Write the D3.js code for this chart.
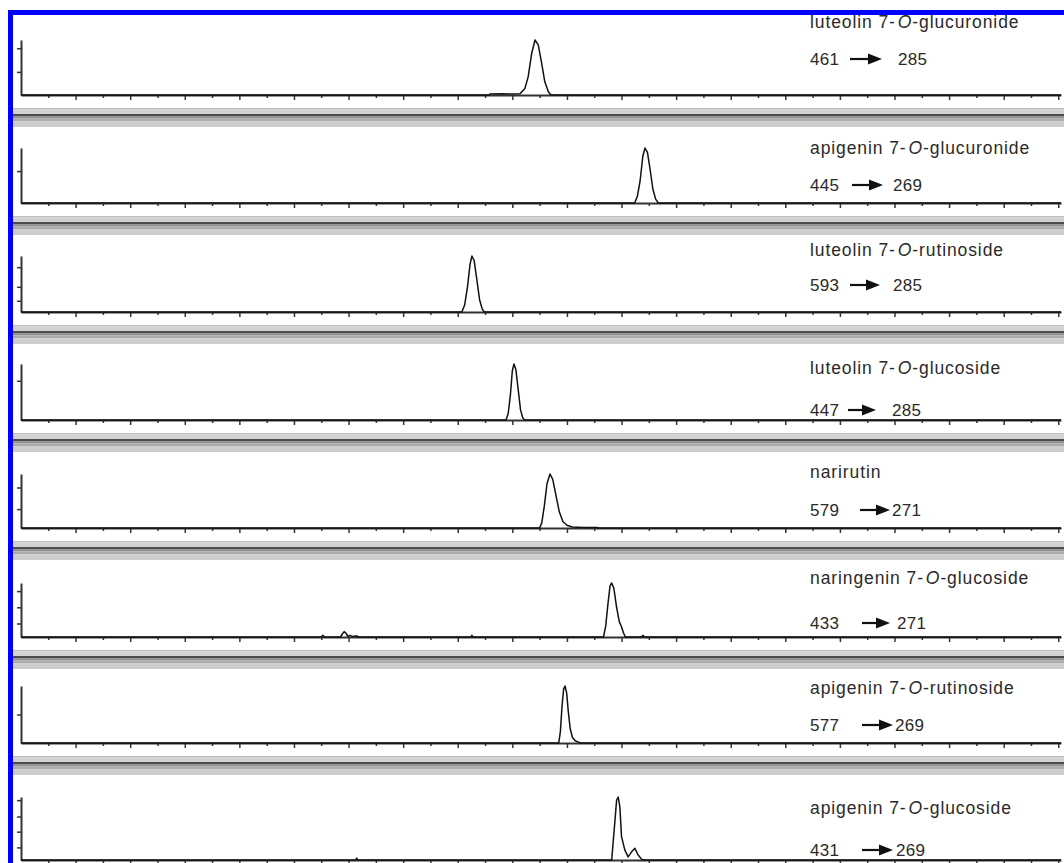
<!DOCTYPE html>
<html>
<head>
<meta charset="utf-8">
<script src="https://cdn.jsdelivr.net/npm/d3@7"></script>
<style>
  body { margin: 0; background: #fff; }
  svg { display: block; }
  .axis path, .axis line { stroke: #333; }
  text { font-family: "Liberation Sans", Arial, sans-serif; fill: #2a2a2a; }
</style>
</head>
<body>
<div id="chart"></div>
<script>
// compound names: [before italic O, italic O, after]
const compounds = [
    ["luteolin 7-", "O", "-glucuronide"],
    ["apigenin 7-", "O", "-glucuronide"],
    ["luteolin 7-", "O", "-rutinoside"],
    ["luteolin 7-", "O", "-glucoside"],
    ["narirutin", "", ""],
    ["naringenin 7-", "O", "-glucoside"],
    ["apigenin 7-", "O", "-rutinoside"],
    ["apigenin 7-", "O", "-glucoside"]
];
const precursorIons = ["461", "445", "593", "447", "579", "433", "577", "431"];
const productIons = ["285", "269", "285", "285", "271", "271", "269", "269"];

// traces: [retention time, relative intensity %]
const trace1 = [[0,0],[17.15,0],[17.18,2],[17.6,2.2],[18.0,1.8],[18.28,2.2],
    [18.46,12],[18.58,33],[18.71,76],[18.83,100],[18.95,91],[19.07,59],[19.19,24],[19.32,6],[19.4,1],[19.5,0],[38.1,0]];
const trace2 = [[0,0],[22.48,0],[22.58,12],[22.68,40],[22.78,85],[22.86,100],[22.95,92],[23.05,60],[23.15,25],[23.25,7],[23.35,0],[38.1,0]];
const trace3 = [[0,0],[16.15,0],[16.25,12],[16.35,42],[16.45,85],[16.52,100],[16.6,92],[16.7,58],[16.8,22],[16.9,5],[16.97,0],[38.1,0]];
const trace4 = [[0,0],[17.77,0],[17.85,12],[17.93,45],[18.0,88],[18.06,100],[18.13,90],[18.22,52],[18.3,18],[18.38,4],[18.45,0],[38.1,0]];
const trace5 = [[0,0],[19.0,0],[19.08,10],[19.17,40],[19.27,82],[19.38,100],[19.48,90],[19.6,60],[19.72,30],[19.85,12],[20.0,5],
    [20.2,2],[20.6,1],[21.1,1],[21.15,0],[38.1,0]];
const trace6 = [[0,0],[11.0,0],[11.06,3],[11.12,0],[11.7,0],[11.78,6],[11.84,10],[11.92,6],[11.98,1],[12.05,3],[12.12,1],[12.3,2],[12.36,0],
    [16.48,0],[16.52,3],[16.56,0],[21.34,0],[21.42,20],[21.5,60],[21.58,95],[21.64,100],[21.72,90],[21.82,55],[21.92,28],[22.0,19],
    [22.07,8],[22.14,0],[22.74,0],[22.78,3],[22.84,0],[38.1,0]];
const trace7 = [[0,0],[19.7,0],[19.76,20],[19.82,65],[19.88,95],[19.93,100],[19.99,88],[20.05,55],[20.12,25],[20.2,10],[20.3,4],
    [20.45,1],[20.55,0],[38.1,0]];
const trace8 = [[0,0],[12.26,0],[12.3,3],[12.34,0],[21.64,0],[21.76,63],[21.82,95],[21.88,100],[21.94,84],[22.0,37],[22.12,16],
    [22.24,5],[22.37,13],[22.49,18.5],[22.61,8],[22.74,1],[22.86,0],[38.1,0]];
const traces = [trace1, trace2, trace3, trace4, trace5, trace6, trace7, trace8];

// y-axis tick marks (relative intensity)
const yTicks = [[42, 85], [58], [20, 45, 80], [70], [35, 75], [25, 55, 85], [50], [20, 45, 69, 95]];

// layout
const W = 1064, H = 863;
const axisLeftX = 21, axisRightX = 1061;
const baselines = [95, 203, 312, 420, 528, 637, 743, 860];
const heights = [55, 55, 56, 56, 54, 54, 57, 63];
const nameY = [28, 154, 256, 374, 478, 584, 694, 814];
const ionY = [65, 191, 291, 416, 516, 629, 731, 856];
const arrowX = [[850, 882, 898], [852, 883, 893], [850, 880, 893], [848, 876, 892],
                [860, 890, 892], [862, 890, 897], [862, 893, 895], [862, 893, 896]];
const textX = 810;

const svg = d3.select("#chart").append("svg")
    .attr("width", W)
    .attr("height", H);

svg.append("rect").attr("width", W).attr("height", H).attr("fill", "#fff");

const x = d3.scaleLinear().domain([0, 38.1]).range([axisLeftX, axisRightX]);
const majorTicks = d3.range(2, 39, 2);
const minorTicks = d3.range(1, 39, 2);

// gray separator bands between panels
const sepStripes = [
    {dy: 13, h: 1.5, c: "#bdbdbd"},
    {dy: 14.5, h: 4.5, c: "#d2d2d2"},
    {dy: 19, h: 2.5, c: "#4d4d4d"},
    {dy: 21.5, h: 2, c: "#8f8f8f"},
    {dy: 23.5, h: 3, c: "#ababab"},
    {dy: 26.5, h: 5.5, c: "#cdcdcd"}
];

traces.forEach(function (trace, i) {
    let b = baselines[i];
    let y = d3.scaleLinear().domain([0, 100]).range([b, b - heights[i]]);
    let g = svg.append("g");

    // x axis: minor + major ticks
    g.append("g")
        .attr("class", "axis")
        .attr("transform", "translate(0," + b + ")")
        .call(d3.axisBottom(x).tickValues(minorTicks).tickSize(3).tickSizeOuter(0).tickFormat(""))
        .call(function (a) { a.select(".domain").remove(); })
        .selectAll("line").attr("stroke-width", 1.5);
    g.append("g")
        .attr("class", "axis")
        .attr("transform", "translate(0," + b + ")")
        .call(d3.axisBottom(x).tickValues(majorTicks).tickSize(5).tickSizeOuter(0).tickFormat(""))
        .call(function (a) {
            a.select(".domain").attr("stroke-width", 2);
            a.selectAll("line").attr("stroke-width", 1.5);
        });

    // y axis
    g.append("g")
        .attr("class", "axis")
        .attr("transform", "translate(" + axisLeftX + ",0)")
        .call(d3.axisLeft(y).tickValues(yTicks[i]).tickSize(4).tickSizeOuter(0).tickFormat(""))
        .call(function (a) {
            a.select(".domain").attr("stroke-width", 2);
            a.selectAll("line").attr("stroke-width", 1.5);
        });

    // chromatogram trace
    g.append("path")
        .datum(trace)
        .attr("fill", "none")
        .attr("stroke", "#111")
        .attr("stroke-width", 1.5)
        .attr("stroke-linejoin", "round")
        .attr("d", d3.line()
            .x(function (d) { return x(d[0]); })
            .y(function (d) { return y(d[1]); }));

    // compound label
    let name = g.append("text")
        .attr("x", textX)
        .attr("y", nameY[i])
        .style("font-size", "17.5px")
        .style("letter-spacing", "0.9px");
    name.append("tspan").text(compounds[i][0]);
    if (compounds[i][1]) {
        name.append("tspan").attr("dx", 2).style("font-style", "italic").text(compounds[i][1]);
        name.append("tspan").text(compounds[i][2]);
    }

    // transition label
    let ax = arrowX[i];
    g.append("text")
        .attr("x", textX)
        .attr("y", ionY[i])
        .style("font-size", "17px")
        .style("letter-spacing", "0.3px")
        .text(precursorIons[i]);
    g.append("line")
        .attr("x1", ax[0]).attr("x2", ax[1] - 10)
        .attr("y1", ionY[i] - 6).attr("y2", ionY[i] - 6)
        .attr("stroke", "#111").attr("stroke-width", 2.2);
    g.append("path")
        .attr("d", "M" + (ax[1] - 14) + "," + (ionY[i] - 11.5) + "L" + ax[1] + "," + (ionY[i] - 6) +
            "L" + (ax[1] - 14) + "," + (ionY[i] - 0.5) + "Z")
        .attr("fill", "#111");
    g.append("text")
        .attr("x", ax[2])
        .attr("y", ionY[i])
        .style("font-size", "17px")
        .style("letter-spacing", "0.3px")
        .text(productIons[i]);

    // separator band
    if (i < traces.length - 1) {
        sepStripes.forEach(function (s) {
            svg.append("rect")
                .attr("x", 13).attr("y", b + s.dy)
                .attr("width", W - 13).attr("height", s.h)
                .attr("fill", s.c);
        });
    }
});

// blue frame
svg.append("rect").attr("x", 8).attr("y", 10).attr("width", W - 8).attr("height", 5).attr("fill", "#0000ff");
svg.append("rect").attr("x", 8).attr("y", 10).attr("width", 5).attr("height", H - 10).attr("fill", "#0000ff");
</script>
</body>
</html>
